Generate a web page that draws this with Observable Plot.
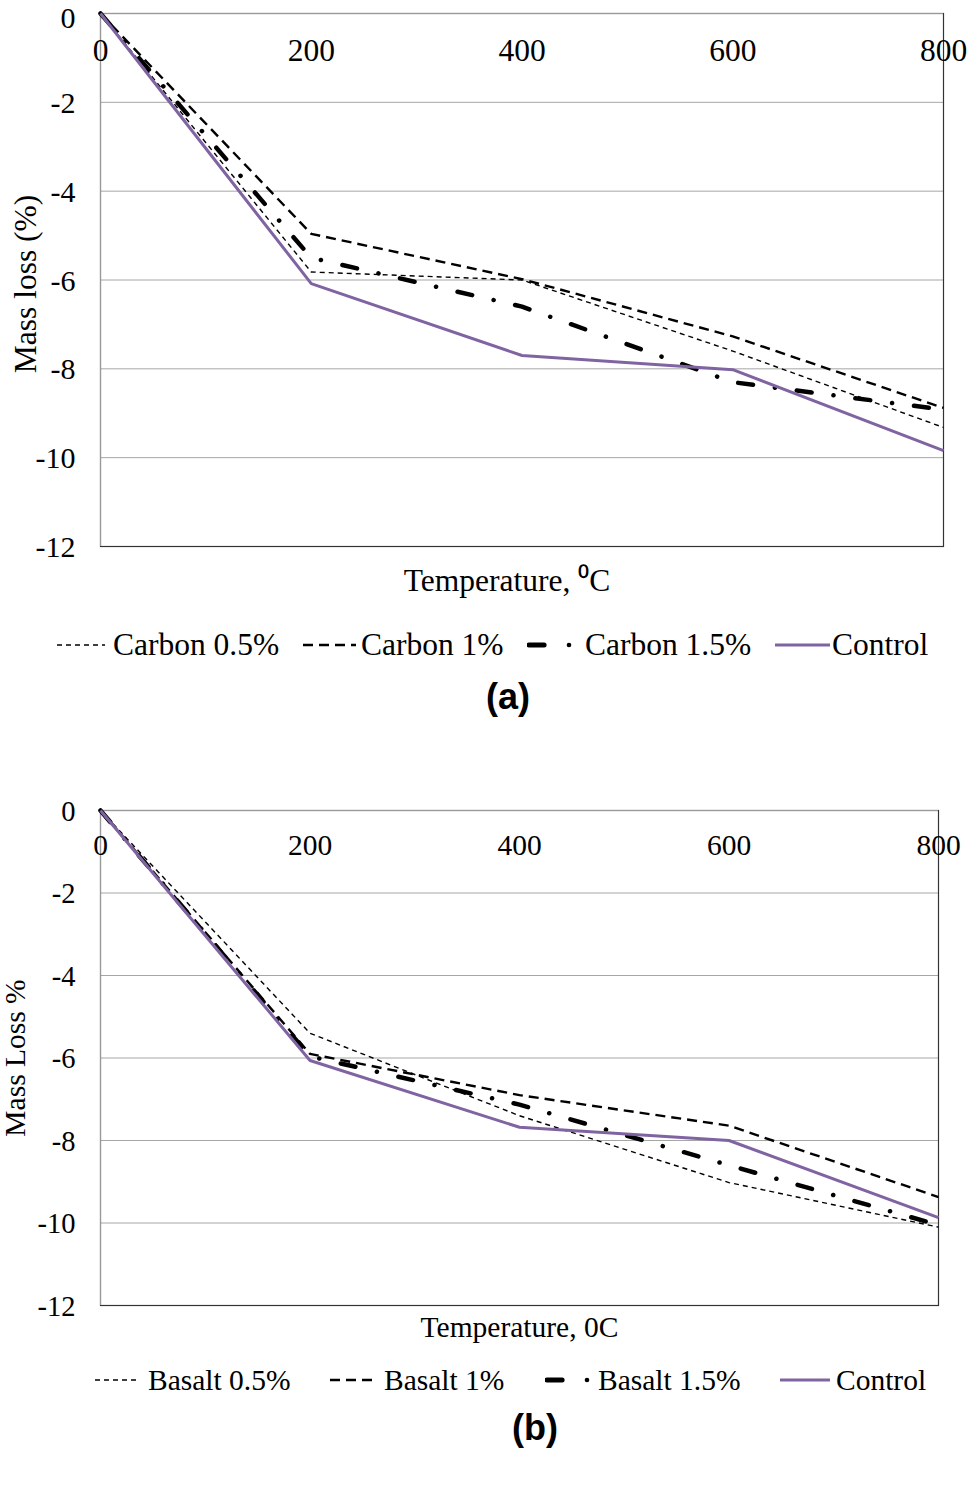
<!DOCTYPE html>
<html><head><meta charset="utf-8">
<script src="https://cdn.jsdelivr.net/npm/d3@7"></script>
<script src="https://cdn.jsdelivr.net/npm/@observablehq/plot@0.6"></script>
<style>
body{margin:0;background:#fff;}
#page{position:relative;width:969px;height:1497px;overflow:hidden;font-family:"Liberation Serif","Times New Roman",serif;background:#fff;}
.chart{position:absolute;left:0;}
.leg{position:absolute;display:flex;align-items:center;height:40px;white-space:nowrap;color:#000;}
.leg svg{flex:none;}
.panel{position:absolute;width:120px;text-align:center;font-family:"Liberation Sans",Arial,sans-serif;font-weight:bold;font-size:36px;line-height:40px;}
</style></head><body><div id="page"></div>
<script>
// ---- data ----
const temperatures = [0, 200, 400, 600, 800];
const xTicks = [0, 200, 400, 600, 800];
const yTicks = [0, -2, -4, -6, -8, -10, -12];

const carbonNames = ["Carbon 0.5%", "Carbon 1%", "Carbon 1.5%", "Control"];
const carbon05 = [0, -5.82, -6.0, -7.6, -9.32];
const carbon1 = [0, -4.96, -5.98, -7.27, -8.88];
const carbon15 = [0, -5.5, -6.6, -8.3, -8.92];
const controlA = [0, -6.08, -7.7, -8.02, -9.84];

const basaltNames = ["Basalt 0.5%", "Basalt 1%", "Basalt 1.5%", "Control"];
const basalt05 = [0, -5.4, -7.4, -9.02, -10.1];
const basalt1 = [0, -5.9, -6.9, -7.64, -9.37];
const basalt15 = [0, -5.96, -7.13, -8.6, -10.05];
const controlB = [0, -6.06, -7.68, -8.0, -9.87];

const yLabelA = "Mass loss (%)";
const yLabelB = "Mass Loss %";
const xLabelA = "Temperature, \u2070C";
const xLabelB = "Temperature, 0C";

// ---- styles ----
const styles = [
  {stroke: "#000", strokeWidth: 1.4, strokeDasharray: "5,4", strokeLinecap: "butt"},
  {stroke: "#000", strokeWidth: 2.4, strokeDasharray: "10,6", strokeLinecap: "butt"},
  {stroke: "#000", strokeWidth: 4.5, strokeDasharray: "15,22,0.1,22", strokeLinecap: "round"},
  {stroke: "#8064A2", strokeWidth: 3, strokeDasharray: null, strokeLinecap: "butt"}
];

function makeChart(seriesValues, names, o) {
  const marks = [
    Plot.ruleY(yTicks.filter(d => d < 0 && d > -12), {stroke: "#a6a6a6", strokeWidth: 1}),
    Plot.frame({stroke: "#333", strokeWidth: 1.2}),
    Plot.ruleY([0], {stroke: "#999", strokeWidth: 1}),
    Plot.ruleX([0], {stroke: "#999", strokeWidth: 1})
  ];
  seriesValues.forEach((vals, i) => {
    const data = temperatures.map((t, j) => ({t, v: vals[j], s: names[i]}));
    const st = styles[i];
    const opt = {x: "t", y: "v", stroke: st.stroke, strokeWidth: st.strokeWidth, strokeLinecap: st.strokeLinecap, strokeLinejoin: "miter", curve: "linear"};
    if (st.strokeDasharray) opt.strokeDasharray = st.strokeDasharray;
    marks.push(Plot.line(data, opt));
  });
  marks.push(
    Plot.text(xTicks, {x: d => d, frameAnchor: "top", dy: o.xTickDy, text: d => String(d), fontSize: o.fs, lineAnchor: "middle", textAnchor: "middle", fill: "#000"}),
    Plot.text(yTicks.filter(d => d < 0), {y: d => d, frameAnchor: "left", dx: -25, dy: 1, text: d => String(d), textAnchor: "end", fontSize: o.tfs, lineAnchor: "middle", fill: "#000"}),
    Plot.text(yTicks.filter(d => d === 0), {y: d => d, frameAnchor: "left", dx: -25, dy: o.zeroDy, text: d => String(d), textAnchor: "end", fontSize: o.tfs, lineAnchor: "middle", fill: "#000"}),
    Plot.text([o.xLabel], {frameAnchor: "bottom", dy: o.xLabelDy, dx: o.xLabelDx, text: d => d, fontSize: o.fs, lineAnchor: "middle", textAnchor: "middle", fill: "#000"}),
    Plot.text([o.yLabel], {frameAnchor: "left", dx: o.yLabelDx, dy: o.yLabelDy, rotate: -90, text: d => d, fontSize: o.fs, lineAnchor: "middle", textAnchor: "middle", fill: "#000"})
  );
  return Plot.plot({
    width: 969, height: o.height,
    marginLeft: 100, marginRight: o.marginRight, marginTop: o.marginTop, marginBottom: o.marginBottom,
    x: {domain: [0, 800], axis: null},
    y: {domain: [-12, 0], axis: null},
    style: {fontFamily: "'Liberation Serif','Times New Roman',serif", background: "transparent", overflow: "visible"},
    marks
  });
}

function legend(names, pos, top, fs) {
  const frag = [];
  names.forEach((n, i) => {
    const [s0, s1, tl] = pos[i];
    const st = styles[i];
    const div = document.createElement("div");
    div.className = "leg";
    div.style.left = s0 + "px";
    div.style.top = (top - 20) + "px";
    div.style.fontSize = fs + "px";
    const w = tl - s0;
    let line;
    if (i === 2) {
      line = `<line x1="2" x2="${(s1 - s0) * 0.38}" y1="20" y2="20" stroke="#000" stroke-width="5" stroke-linecap="round"/><circle cx="${(s1 - s0) - 3}" cy="20" r="2.3" fill="#000"/>`;
    } else {
      line = `<line x1="0" x2="${s1 - s0}" y1="20" y2="20" stroke="${st.stroke}" stroke-width="${st.strokeWidth}" ${st.strokeDasharray ? `stroke-dasharray="${st.strokeDasharray}"` : ""}/>`;
    }
    div.innerHTML = `<svg width="${w}" height="40">${line}</svg><span>${n}</span>`;
    frag.push(div);
  });
  return frag;
}

const page = document.getElementById("page");

const chartA = makeChart([carbon05, carbon1, carbon15, controlA], carbonNames, {
  height: 600, marginTop: 13, marginBottom: 54, marginRight: 26, fs: 31.5, tfs: 30, zeroDy: 4.5,
  xTickDy: 37, xLabel: xLabelA, xLabelDy: 34, xLabelDx: -15, yLabel: yLabelA, yLabelDx: -75, yLabelDy: 4
});
chartA.classList.add("chart");
chartA.style.top = "0px";
page.appendChild(chartA);

const chartB = makeChart([basalt05, basalt1, basalt15, controlB], basaltNames, {
  height: 560, marginTop: 30, marginBottom: 35, marginRight: 31, fs: 29.5, tfs: 28.5, zeroDy: 1,
  xTickDy: 35, xLabel: xLabelB, xLabelDy: 22, xLabelDx: 0, yLabel: yLabelB, yLabelDx: -85, yLabelDy: 0
});
chartB.classList.add("chart");
chartB.style.top = "780px";
page.appendChild(chartB);

legend(carbonNames, [[57,105,113],[303,356,361],[527,572,585],[775,830,832]], 645, 31.5).forEach(d => page.appendChild(d));
legend(basaltNames, [[95,140,148],[330,378,384],[545,590,598],[780,830,836]], 1380, 29.5).forEach(d => page.appendChild(d));

const pa = document.createElement("div");
pa.className = "panel"; pa.textContent = "(a)";
pa.style.left = (508 - 60) + "px"; pa.style.top = (697 - 20) + "px";
page.appendChild(pa);
const pb = document.createElement("div");
pb.className = "panel"; pb.textContent = "(b)";
pb.style.left = (535 - 60) + "px"; pb.style.top = (1428 - 20) + "px";
page.appendChild(pb);
</script>
</body></html>
